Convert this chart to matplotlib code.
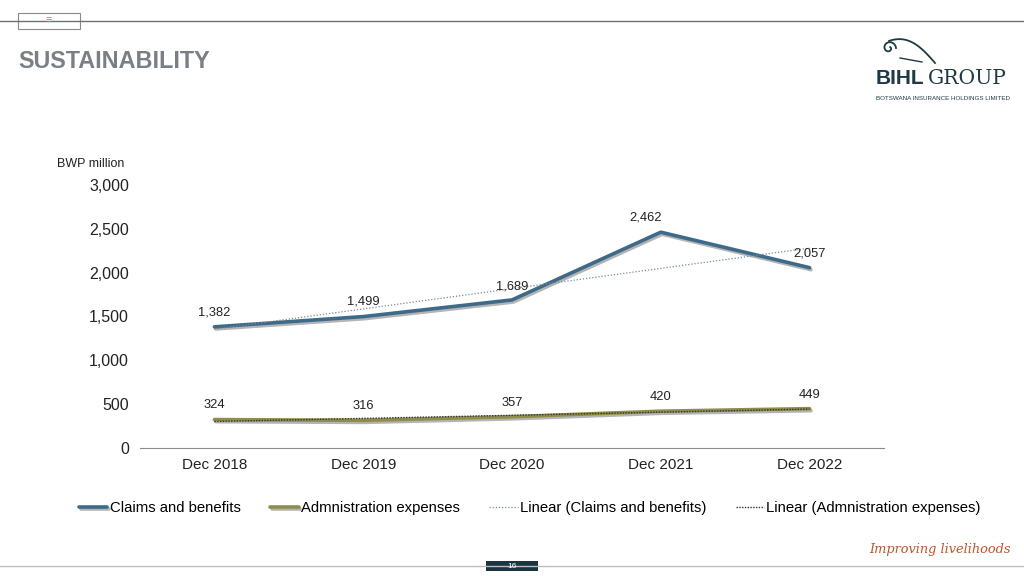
import numpy as np
import matplotlib
matplotlib.use("Agg")
import matplotlib.pyplot as plt
import matplotlib.patheffects as pe
from matplotlib.lines import Line2D

# data
years = ["Dec 2018", "Dec 2019", "Dec 2020", "Dec 2021", "Dec 2022"]
claims = [1382, 1499, 1689, 2462, 2057]
admin = [324, 316, 357, 420, 449]

blue = "#3e6a8a"
olive = "#8f8d4c"
grey_txt = "#7a7f85"
navy = "#1f3a44"

plt.rcParams["font.family"] = ["Liberation Sans", "DejaVu Sans"]

fig = plt.figure(figsize=(10.24, 5.76), dpi=100)


def px(xs, ys):
    # pixel coords -> figure fraction
    return np.asarray(xs) / 1024, 1 - np.asarray(ys) / 576


# ---- header / footer decoration
fig.add_artist(Line2D(*px([0, 1024], [21, 21]), color="#6f6f6f", lw=1))
fig.add_artist(plt.Rectangle((18 / 1024, 1 - 29 / 576), 62 / 1024, 16 / 576,
                             facecolor="white", edgecolor="#8a8a8a", lw=0.8))
fig.text(48 / 1024, 1 - 21 / 576, "☰", color="#d06a6a", fontsize=5, ha="center", va="center")
fig.text(18 / 1024, 1 - 62 / 576, "SUSTAINABILITY", color=grey_txt, fontsize=16.8,
         fontweight="bold", va="center")

# rough logo mark: a small curl plus a sweeping tail
t = np.linspace(0, 2.2 * np.pi, 80)
r = 7 - 0.8 * t
fig.add_artist(Line2D(*px(889 + r * np.cos(t), 48 - r * np.sin(t)), color=navy, lw=1.3))
s = np.linspace(0, 1, 60)
fig.add_artist(Line2D(*px(889 + 46 * s, 41 + 22 * s ** 1.6 - 6 * np.sin(np.pi * s)),
                      color=navy, lw=1.3))
fig.add_artist(Line2D(*px(900 + 22 * s, 58 + 4 * s), color=navy, lw=1.0))

fig.text(876 / 1024, 1 - 78 / 576, "BIHL", color=navy, fontsize=15, fontweight="bold",
         va="center")
fig.text(928 / 1024, 1 - 78 / 576, "GROUP", color=navy, fontsize=14.6, va="center",
         family=["DejaVu Serif"])
fig.text(876 / 1024, 1 - 98 / 576, "BOTSWANA INSURANCE HOLDINGS LIMITED", color=navy,
         fontsize=4.5, va="center")
fig.add_artist(Line2D(*px([0, 1024], [566, 566]), color="#bdbdbd", lw=1))
fig.add_artist(plt.Rectangle((486 / 1024, 1 - 571 / 576), 52 / 1024, 10 / 576,
                             facecolor="#1b3440", edgecolor="none"))
fig.text(512 / 1024, 1 - 566 / 576, "16", color="white", fontsize=6, ha="center", va="center")
fig.text(940 / 1024, 1 - 550 / 576, "Improving livelihoods", color="#c0532a", fontsize=9.3,
         ha="center", va="center", style="italic", family=["DejaVu Serif"])

# ---- chart
ax = fig.add_axes([140 / 1024, 1 - 448 / 576, 744 / 1024, 263 / 576])
x = np.arange(len(years))
shadow = [pe.SimpleLineShadow(offset=(1, -1.5), shadow_color="#444444", alpha=0.4), pe.Normal()]

ax.plot(x, claims, color=blue, lw=2.6, solid_capstyle="round", path_effects=shadow,
        label="Claims and benefits", zorder=3)
ax.plot(x, admin, color=olive, lw=2.6, solid_capstyle="round", path_effects=shadow,
        label="Admnistration expenses", zorder=3)

# Excel-style linear trend lines
c_fit = np.polyval(np.polyfit(x, claims, 1), x)
a_fit = np.polyval(np.polyfit(x, admin, 1), x)
ax.plot(x, c_fit, color="#7a8a96", lw=0.9, ls=(0, (1, 1.5)), label="Linear (Claims and benefits)",
        zorder=4)
ax.plot(x, a_fit, color="#333333", lw=1.0, ls=(0, (1, 1)), label="Linear (Admnistration expenses)",
        zorder=4)

c_off = [(0, 14), (0, 15), (0, 13), (-15, 15), (0, 14)]
for xi, v, o in zip(x, claims, c_off):
    ax.annotate(f"{v:,}", (xi, v), xytext=o, textcoords="offset pixels", ha="center",
                va="center", fontsize=9.3, color="#222222", zorder=5)
a_off = [(0, 15), (0, 14), (0, 14), (0, 14), (0, 14)]
for xi, v, o in zip(x, admin, a_off):
    ax.annotate(f"{v:,}", (xi, v), xytext=o, textcoords="offset pixels", ha="center",
                va="center", fontsize=9.3, color="#222222", zorder=5)

ax.set_xlim(-0.5, 4.5)
ax.set_ylim(0, 3000)
ax.set_yticks(np.arange(0, 3001, 500))
ax.set_yticklabels([f"{t:,}" for t in range(0, 3001, 500)], fontsize=11.5, color="#222222")
ax.set_xticks(x)
ax.set_xticklabels(years, fontsize=11, color="#222222")
ax.tick_params(length=0, axis="both")
ax.tick_params(axis="y", pad=8)
ax.tick_params(axis="x", pad=7)
for s in ["top", "right", "left"]:
    ax.spines[s].set_visible(False)
ax.spines["bottom"].set_color("#8a8a8a")
ax.set_facecolor("none")

fig.text(57 / 1024, 1 - 164 / 576, "BWP million", fontsize=9, va="center", color="#222222")

h, l = ax.get_legend_handles_labels()
fig.legend(h, l, loc="center", bbox_to_anchor=(530 / 1024, 1 - 508 / 576), ncol=4,
           frameon=False, fontsize=10.7, handlelength=1.9, handletextpad=0.15,
           columnspacing=2.0)

fig.savefig("out.png", dpi=100)
